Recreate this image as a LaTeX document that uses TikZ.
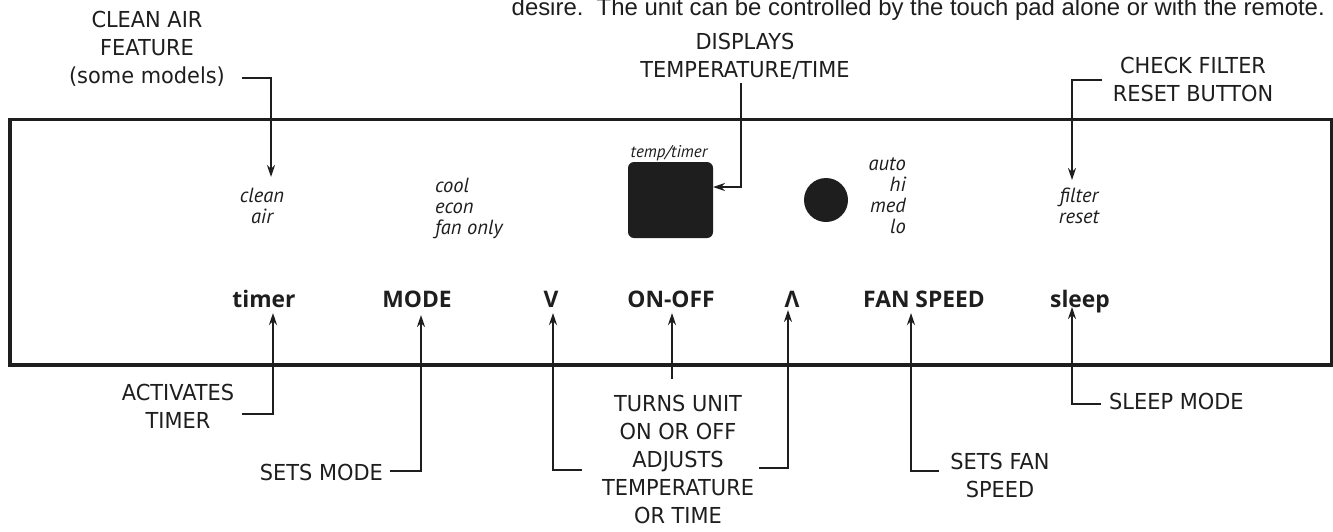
\documentclass[tikz,border=0pt]{standalone}
\usepackage{fontspec}
\usetikzlibrary{arrows.meta}
\newfontfamily\labfont[FakeStretch=0.95]{DejaVu Sans}
\newfontfamily\btnfont{Open Sans}
\newfontfamily\itfont{PT Sans}
\newfontfamily\topfont{Liberation Sans}
\definecolor{ink}{HTML}{1E1E1E}
\tikzset{
  lab/.style={font=\labfont\fontsize{22}{28}\selectfont, align=center, inner sep=0pt, text=ink},
  btn/.style={font=\btnfont\bfseries\fontsize{22.8}{26}\selectfont, inner sep=0pt, anchor=base, text=ink},
  ital/.style={font=\itfont\itshape\fontsize{20.5}{21}\selectfont, align=center, inner sep=0pt, text=ink},
  arr/.style={draw=ink, line width=2pt, -{Stealth[length=12pt,width=8pt]}},
  panel/.style={draw=ink, line width=3.5pt},
}
\begin{document}
\begin{tikzpicture}[x=1pt,y=-1pt]
\useasboundingbox (0,0) rectangle (1333,531);
\fill[white] (0,0) rectangle (1333,531);

% panel
\draw[panel] (10,119.5) rectangle (1331.5,365);

% top sentence
\node[font=\topfont\fontsize{23.9}{28}\selectfont, text=ink, inner sep=0pt, anchor=base east] (note) at (1325,15)
  {desire.\ \ The unit can be controlled by the touch pad alone or with the remote.};

% labels outside (anchor base = baseline of the last line)
\node[lab, anchor=base] (cleanlab) at (147,83) {CLEAN AIR\\FEATURE\\(some models)};
\node[lab, anchor=base] (displab) at (745,77) {DISPLAYS\\TEMPERATURE/TIME};
\node[lab, anchor=base] (checklab) at (1193,101) {CHECK FILTER\\RESET BUTTON};
\node[lab, anchor=base] (actlab) at (178,428) {ACTIVATES\\TIMER};
\node[lab, anchor=base east] (setsmode) at (383,480) {SETS MODE};
\node[lab, anchor=base] (turns) at (678,523) {TURNS UNIT\\ON OR OFF\\ADJUSTS\\TEMPERATURE\\OR TIME};
\node[lab, anchor=base] (setsfan) at (1000,497) {SETS FAN\\SPEED};
\node[lab, anchor=base west] (sleepmode) at (1109,409) {SLEEP MODE};

% panel contents
\node[ital, anchor=base] (cleanair) at (262,223) {clean\\air};
\node[ital, align=left, anchor=base west] (modes) at (435,234) {cool\\econ\\fan only};
\node[ital, font=\itfont\itshape\fontsize{17}{18}\selectfont, anchor=base] (temptimer) at (669,157) {temp/timer};
\node[fill=ink, rounded corners=6pt, minimum width=85pt, minimum height=76pt, inner sep=0pt] (disp) at (670.5,200) {};
\node[circle, fill=ink, minimum size=44pt, inner sep=0pt] (knob) at (826,200) {};
\node[ital, align=right, anchor=base east] (speeds) at (906,233) {auto\\hi\\med\\lo};
\node[ital, anchor=base] (filter) at (1079,223) {filter\\reset};

\node[btn] (timer) at (264,307) {timer};
\node[btn] (mode) at (417,307) {MODE};
\node[btn] (down) at (551,307) {V};
\node[btn] (onoff) at (671,307) {ON-OFF};
\node[btn] (up) at (792,307) {Λ};
\node[btn] (fan) at (924,307) {FAN SPEED};
\node[btn] (sleep) at (1080,307) {sleep};

% connector end points
\coordinate (ca0) at (242,78);  \coordinate (ca1) at (271,177);
\coordinate (dt0) at (741,83);  \coordinate (dt1) at (713,187);
\coordinate (cf0) at (1102,80); \coordinate (cf1) at (1072,180);
\coordinate (at0) at (242,414); \coordinate (at1) at (273,313);
\coordinate (sm0) at (390,471); \coordinate (sm1) at (421,315);
\coordinate (dn0) at (582,470); \coordinate (dn1) at (553,313);
\coordinate (oo0) at (672,379); \coordinate (oo1) at (672,313);
\coordinate (up0) at (759,468); \coordinate (up1) at (788,310);
\coordinate (fs0) at (939,471); \coordinate (fs1) at (911,313);
\coordinate (sl0) at (1101,404);\coordinate (sl1) at (1072,307);

\draw[arr] (ca0) -| (ca1);
\draw[arr] (dt0) |- (dt1);
\draw[arr] (cf0) -| (cf1);
\draw[arr] (at0) -| (at1);
\draw[arr] (sm0) -| (sm1);
\draw[arr] (dn0) -| (dn1);
\draw[arr] (oo0) -- (oo1);
\draw[arr] (up0) -| (up1);
\draw[arr] (fs0) -| (fs1);
\draw[arr] (sl0) -| (sl1);
\end{tikzpicture}
\end{document}
